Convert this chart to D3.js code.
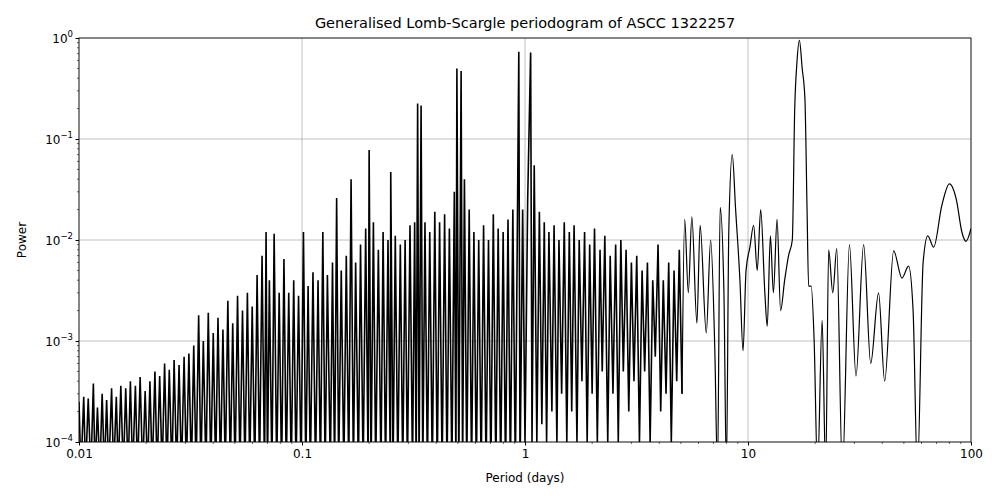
<!DOCTYPE html>
<html><head><meta charset="utf-8">
<script src="https://cdn.jsdelivr.net/npm/d3@7"></script>
<style>body{margin:0;background:#fff}text{font-family:"DejaVu Sans",sans-serif}</style>
</head><body><svg id="c" width="1000" height="500"></svg>
<script>
// traced periodogram: [period (days), power]
const dense = [
[0.0100,0.00025],[0.0102,0.00005],[0.0105,0.00028],[0.0107,0.00005],[0.0110,0.00027],[0.0113,0.00005],[0.0116,0.00038],[0.0118,0.00005],[0.0121,0.00022],[0.0124,0.00005],[0.0127,0.00030],[0.0130,0.00005],[0.0133,0.00026],[0.0136,0.00005],[0.0140,0.00034],[0.0143,0.00005],[0.0147,0.00028],[0.0150,0.00005],[0.0154,0.00036],[0.0158,0.00005],[0.0162,0.00034],[0.0166,0.00005],[0.0170,0.00040],[0.0174,0.00005],[0.0179,0.00036],[0.0183,0.00005],[0.0188,0.00044],[0.0193,0.00005],[0.0198,0.00032],[0.0203,0.00005],[0.0208,0.00040],[0.0213,0.00005],[0.0219,0.00050],[0.0224,0.00005],[0.0230,0.00045],[0.0236,0.00005],[0.0242,0.00060],[0.0248,0.00005],[0.0254,0.00052],[0.0261,0.00005],[0.0267,0.00065],[0.0274,0.00005],[0.0281,0.00058],[0.0288,0.00005],[0.0296,0.00070],[0.0303,0.00005],[0.0311,0.00075],[0.0319,0.00005],[0.0327,0.00090],[0.0335,0.00005],[0.0344,0.0018],[0.0352,0.00005],[0.0361,0.0010],[0.0371,0.00005],[0.0380,0.0019],[0.0390,0.00005],[0.0400,0.0012],[0.0410,0.00005],[0.0420,0.0017],[0.0431,0.00005],[0.0442,0.0013],[0.0453,0.00005],[0.0465,0.0025],[0.0477,0.00005],[0.0489,0.0015],[0.0501,0.00005],[0.0514,0.0028],[0.0527,0.00005],[0.0541,0.0020],[0.0555,0.00005],[0.0569,0.0030],[0.0583,0.00005],[0.0598,0.0022],[0.0614,0.00005],[0.0629,0.0045],[0.0645,0.00005],[0.0662,0.0070],[0.0679,0.00005],[0.0690,0.0120],[0.0700,0.00005],[0.0714,0.0040],[0.0733,0.00005],[0.0750,0.0115],[0.0770,0.00005],[0.0790,0.0030],[0.0810,0.00005],[0.0830,0.0065],[0.0850,0.00005],[0.0872,0.0030],[0.0895,0.00005],[0.0918,0.0040],[0.0940,0.00005],[0.0965,0.0028],[0.0990,0.00005],[0.1015,0.0120],[0.1040,0.00005],[0.1065,0.0035],[0.1090,0.00005],[0.1120,0.0048],[0.1150,0.00005],[0.1180,0.0040],[0.1210,0.00005],[0.1240,0.0120],[0.1270,0.00005],[0.1300,0.0045],[0.1340,0.00005],[0.1370,0.0060],[0.1400,0.00005],[0.1430,0.0260],[0.1460,0.00005],[0.1500,0.0050],[0.1540,0.00005],[0.1580,0.0070],[0.1620,0.00005],[0.1660,0.0400],[0.1700,0.00005],[0.1740,0.0060],[0.1790,0.00005],[0.1830,0.0090],[0.1880,0.00005],[0.1930,0.0130],[0.1980,0.00005],[0.2000,0.0780],[0.2040,0.00005],[0.2090,0.0150],[0.2140,0.00005],[0.2200,0.0080],[0.2260,0.00005],[0.2310,0.0120],[0.2370,0.00005],[0.2430,0.0100],[0.2490,0.00005],[0.2500,0.0470],[0.2560,0.00005],[0.2620,0.0110],[0.2690,0.00005],[0.2760,0.0090],[0.2830,0.00005],[0.2900,0.0100],[0.2970,0.00005],[0.3050,0.0140],[0.3130,0.00005],[0.3200,0.0150],[0.3250,0.00005],[0.3300,0.2250],[0.3350,0.00005],[0.3420,0.2150],[0.3480,0.00005],[0.3560,0.0150],[0.3650,0.00005],[0.3740,0.0120],[0.3840,0.00005],[0.3940,0.0190],[0.4040,0.00005],[0.4140,0.0150],[0.4250,0.00005],[0.4360,0.0180],[0.4470,0.00005],[0.4580,0.0130],[0.4700,0.00005],[0.4820,0.0300],[0.4900,0.00005],[0.4950,0.5000],[0.5050,0.00005],[0.5170,0.4700],[0.5250,0.00005],[0.5350,0.0400],[0.5480,0.00005],[0.5620,0.0200],[0.5760,0.00005],[0.5900,0.0120],[0.6050,0.00005],[0.6200,0.0100],[0.6360,0.00005],[0.6520,0.0140],[0.6690,0.00005],[0.6860,0.0100],[0.7030,0.00005],[0.7210,0.0180],[0.7400,0.00005],[0.7580,0.0130],[0.7780,0.00005],[0.7980,0.0120],[0.8180,0.00005],[0.8390,0.0160],[0.8600,0.00005],[0.8820,0.0200],[0.9050,0.00005],[0.9280,0.0400],[0.9380,0.7300],[0.9500,0.00005],[0.9760,0.0200],[1.0000,0.00010],[1.0280,0.0250],[1.0600,0.7200],[1.0750,0.00010],[1.1000,0.0550],[1.1300,0.00010],[1.1600,0.0190],[1.1900,0.00015],[1.2200,0.0150],[1.2500,0.00010],[1.2800,0.0120],[1.3200,0.00020],[1.3500,0.0140],[1.3900,0.00010],[1.4200,0.0100],[1.4600,0.00030],[1.5000,0.0150],[1.5400,0.00010],[1.5800,0.0120],[1.6200,0.00020],[1.6600,0.0140],[1.7100,0.00010],[1.7500,0.0100],[1.8000,0.00040],[1.8500,0.0120],[1.9000,0.00010],[1.9500,0.0090],[2.0000,0.00030],[2.0500,0.0130],[2.1100,0.00010],[2.1700,0.0080],[2.2200,0.00050],[2.2800,0.0110],[2.3500,0.00010],[2.4100,0.0070],[2.4800,0.00030],[2.5500,0.0090],[2.6200,0.00010],[2.6900,0.0100],[2.7600,0.00050],[2.8400,0.0080],[2.9200,0.00020],[3.0000,0.0060],[3.0800,0.00040],[3.1700,0.0070],[3.2600,0.00010],[3.3500,0.0050],[3.4400,0.00050],[3.5400,0.0060],[3.6400,0.00010],[3.7400,0.0040],[3.8400,0.00070],[3.9500,0.0090],[4.0600,0.00020],[4.1700,0.0040],[4.2900,0.00030],[4.4100,0.0060],[4.5300,0.00010],[4.6600,0.0050],[4.7900,0.00040],[4.9200,0.0080],[5.0600,0.00030]
];
const smooth = [
[5.06,0.00030],[5.20,0.016],[5.40,0.003],[5.60,0.017],[5.90,0.0015],[6.10,0.014],[6.50,0.0012],[6.80,0.010],[7.10,0.0008],[7.30,0.00005],[7.50,0.021],[7.80,0.003],[8.00,0.00005],[8.20,0.012],[8.50,0.070],[8.80,0.020],[9.20,0.0040],[9.50,0.0008],[9.80,0.0050],[10.2,0.0085],[10.6,0.014],[11.0,0.0050],[11.4,0.020],[11.9,0.0030],[12.2,0.0014],[12.6,0.011],[13.0,0.0030],[13.5,0.016],[14.0,0.0020],[14.6,0.0040],[15.2,0.0070],[15.8,0.010],[16.2,0.20],[16.6,0.60],[17.0,0.95],[17.5,0.50],[18.0,0.25],[18.4,0.020],[18.7,0.0035],[19.2,0.0035],[19.8,0.0010],[20.5,0.00005],[21.5,0.0016],[22.3,0.00005],[23.0,0.0080],[24.0,0.0030],[25.0,0.0082],[26.5,0.00005],[28.5,0.0090],[30.5,0.00045],[33.0,0.0090],[35.5,0.00060],[38.5,0.0030],[41.0,0.00040],[45.0,0.0078],[49.0,0.0042],[52.5,0.0055],[55.0,0.0020],[57.5,0.00005],[61.0,0.0060],[64.0,0.011],[68.0,0.0085],[74.0,0.022],[80.0,0.036],[86.0,0.025],[91.0,0.012],[95.0,0.0097],[100.0,0.013]
];
const xTicks = [0.01,0.1,1,10,100];
const xTickLabels = ["0.01","0.1","1","10","100"];
const yTicks = [1e-4,1e-3,1e-2,1e-1,1];
const yExp = ["−4","−3","−2","−1","0"];

const svg = d3.select("#c");
const m = {l:79,r:971,t:38,b:442};
const x = d3.scaleLog().domain([0.01,100]).range([m.l,m.r]);
const y = d3.scaleLog().domain([1e-4,1]).range([m.b,m.t]);

svg.append("defs").append("clipPath").attr("id","cp").append("rect")
 .attr("x",m.l).attr("y",m.t).attr("width",m.r-m.l).attr("height",m.b-m.t);

const g = svg.append("g");
g.selectAll(".gx").data(xTicks).enter().append("line")
 .attr("x1",d=>x(d)).attr("x2",d=>x(d)).attr("y1",m.t).attr("y2",m.b).attr("stroke","#b0b0b0").attr("stroke-width",0.8);
g.selectAll(".gy").data(yTicks).enter().append("line")
 .attr("y1",d=>y(d)).attr("y2",d=>y(d)).attr("x1",m.l).attr("x2",m.r).attr("stroke","#b0b0b0").attr("stroke-width",0.8);

const line = d3.line().x(d=>x(d[0])).y(d=>y(d[1]));
svg.append("path").attr("clip-path","url(#cp)").attr("d",line(dense))
 .attr("fill","none").attr("stroke","#000").attr("stroke-width",1.6);
const sline = d3.line().x(d=>x(d[0])).y(d=>y(d[1])).curve(d3.curveMonotoneX);
svg.append("path").attr("clip-path","url(#cp)").attr("d",sline(smooth))
 .attr("fill","none").attr("stroke","#000").attr("stroke-width",1.2);

svg.append("rect").attr("x",m.l).attr("y",m.t).attr("width",m.r-m.l).attr("height",m.b-m.t)
 .attr("fill","none").attr("stroke","#000").attr("stroke-width",0.8);

const xa = d3.axisBottom(x).tickValues(xTicks).tickFormat((d,i)=>xTickLabels[i]).tickSize(3.5).tickPadding(4);
const gx = svg.append("g").attr("transform",`translate(0,${m.b})`).call(xa);
const minor=[];
for(let e=-2;e<2;e++) for(let k=2;k<10;k++) minor.push(k*Math.pow(10,e));
svg.append("g").selectAll("line").data(minor).enter().append("line")
 .attr("x1",d=>x(d)).attr("x2",d=>x(d)).attr("y1",m.b).attr("y2",m.b+2).attr("stroke","#000").attr("stroke-width",0.6);
const yminor=[];
for(let e=-4;e<0;e++) for(let k=2;k<10;k++) yminor.push(k*Math.pow(10,e));
svg.append("g").selectAll("line").data(yminor).enter().append("line")
 .attr("y1",d=>y(d)).attr("y2",d=>y(d)).attr("x1",m.l).attr("x2",m.l-2).attr("stroke","#000").attr("stroke-width",0.6);

const ya = d3.axisLeft(y).tickValues(yTicks).tickFormat("").tickSize(3.5);
svg.append("g").attr("transform",`translate(${m.l},0)`).call(ya);
gx.selectAll("text").attr("font-size",12).attr("font-family","DejaVu Sans").attr("fill","#000");
svg.selectAll(".domain").remove();

const yl = svg.append("g");
yTicks.forEach((t,i)=>{
  const tx = yl.append("text").attr("x",m.l-6).attr("y",y(t)+5).attr("text-anchor","end").attr("font-size",12);
  tx.append("tspan").text("10");
  tx.append("tspan").attr("dy",-6).attr("font-size",8.5).text(yExp[i]);
});

svg.append("text").attr("x",(m.l+m.r)/2).attr("y",28).attr("text-anchor","middle").attr("font-size",14.5)
 .text("Generalised Lomb-Scargle periodogram of ASCC 1322257");
svg.append("text").attr("x",(m.l+m.r)/2).attr("y",482).attr("text-anchor","middle").attr("font-size",12).text("Period (days)");
svg.append("text").attr("transform","translate(26,240) rotate(-90)").attr("text-anchor","middle").attr("font-size",12).text("Power");
</script></body></html>
